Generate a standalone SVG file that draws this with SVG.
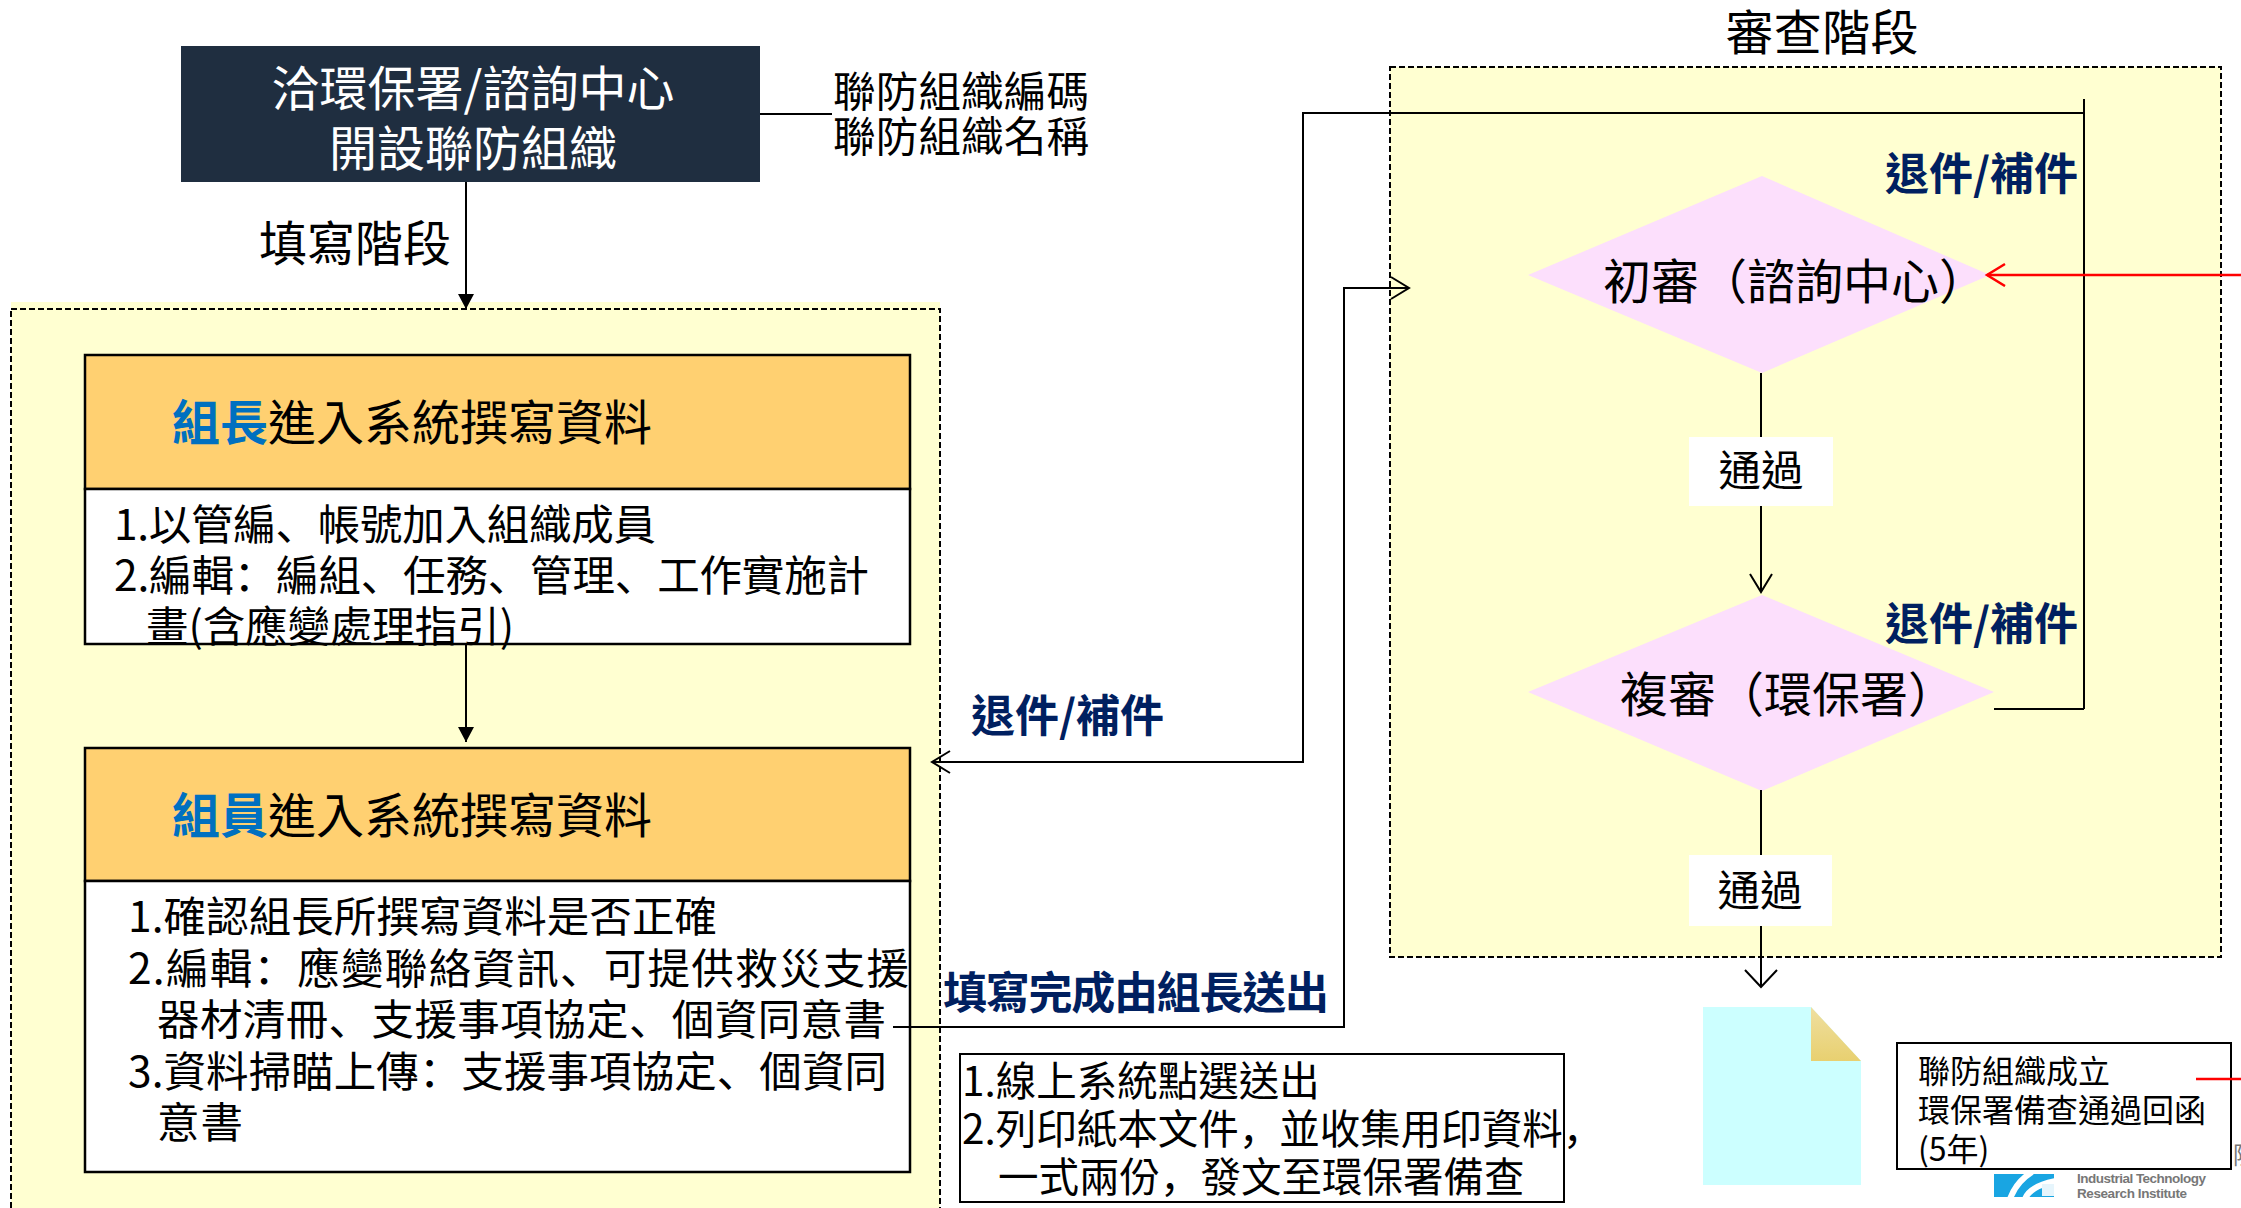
<svg xmlns="http://www.w3.org/2000/svg" width="2241" height="1208" viewBox="0 0 2241 1208">
<style>
text{font-family:"Noto Sans CJK TC","Liberation Sans",sans-serif;fill:#000;dominant-baseline:central}
.p{font-family:"Noto Sans CJK SC","Noto Sans CJK TC",sans-serif}
.t48{font-size:48px}.t42{font-size:42.5px}.t40{font-size:40.5px}.t32{font-size:32px}
.nb{font-size:44px;font-weight:700;fill:#002060}
.c{text-anchor:middle}
.zone{fill:#FFFFD1;stroke:#000;stroke-width:2;stroke-dasharray:6 3}
.head{fill:#FFD071;stroke:#000;stroke-width:2.5}
.body{fill:#fff;stroke:#000;stroke-width:2.5}
.dia{fill:#FCDFFC}
.ln{fill:none;stroke:#000;stroke-width:2}
.red{fill:none;stroke:#F00;stroke-width:2.5}
.blue{fill:#0070C0;font-weight:700}
.logo{fill:#777;font-family:"Liberation Sans",sans-serif;font-size:13.5px;font-weight:700}
</style>
<defs>
<marker id="fa" markerUnits="userSpaceOnUse" markerWidth="16" markerHeight="20" refX="15" refY="8" orient="auto"><path d="M0 0L15 8L0 16Z" fill="#000"/></marker>
<marker id="oa" markerUnits="userSpaceOnUse" markerWidth="24" markerHeight="26" refX="20" refY="12" orient="auto"><path d="M2 1L20 12L2 23" fill="none" stroke="#000" stroke-width="2"/></marker>
<marker id="ob" markerUnits="userSpaceOnUse" markerWidth="24" markerHeight="34" refX="19" refY="17" orient="auto"><path d="M2 1L19 17L2 33" fill="none" stroke="#000" stroke-width="2"/></marker>
<marker id="ra" markerUnits="userSpaceOnUse" markerWidth="24" markerHeight="26" refX="20" refY="12" orient="auto"><path d="M2 1L20 12L2 23" fill="none" stroke="#F00" stroke-width="2.5"/></marker>
<linearGradient id="fold" x1="0" y1="0" x2="0" y2="1"><stop offset="0" stop-color="#EFDFA0"/><stop offset="1" stop-color="#E8D070"/></linearGradient>
</defs>
<rect width="2241" height="1208" fill="#fff"/>
<g id="zones"><rect x="11" y="302" width="929" height="20" fill="#FFFFD1"/><rect id="zone-left" class="zone" x="11" y="309" width="929" height="920"/><rect id="zone-right" class="zone" x="1390" y="67" width="831" height="890"/></g>
<g id="start"><rect x="181" y="46" width="579" height="136" fill="#1F2E40"/><text class="t48 c" x="473" y="85" style="fill:#fff">洽環保署/諮詢中心</text><text class="t48 c" x="473" y="145" style="fill:#fff">開設聯防組織</text></g>
<g id="start-note"><text class="t42" x="833" y="88" textLength="256">聯防組織編碼</text><text class="t42" x="833" y="133" textLength="256">聯防組織名稱</text></g>
<text class="t48" x="259" y="240">填寫階段</text>
<text class="t48 c" x="1822" y="29" textLength="193">審查階段</text>
<g id="leader"><rect class="head" x="85" y="355" width="825" height="134"/><rect class="body" x="85" y="489" width="825" height="155"/>
<text class="t48" x="172" y="419"><tspan class="blue">組長</tspan>進入系統撰寫資料</text>
<text class="t42" x="114" y="521" textLength="542">1.以管編<tspan class="p">、</tspan>帳號加入組織成員</text><text class="t42" x="114" y="572" textLength="755">2.編輯<tspan class="p">：</tspan>編組<tspan class="p">、</tspan>任務<tspan class="p">、</tspan>管理<tspan class="p">、</tspan>工作實施計</text><text class="t42" x="146" y="623" textLength="368">畫(含應變處理指引)</text></g>
<g id="member"><rect class="head" x="85" y="748" width="825" height="133"/><rect class="body" x="85" y="881" width="825" height="291"/>
<text class="t48" x="172" y="812"><tspan class="blue">組員</tspan>進入系統撰寫資料</text>
<text class="t42" x="128" y="913" textLength="589">1.確認組長所撰寫資料是否正確</text><text class="t42" x="128" y="965" textLength="781">2.編輯<tspan class="p">：</tspan>應變聯絡資訊<tspan class="p">、</tspan>可提供救災支援</text><text class="t42" x="157" y="1016" textLength="729">器材清冊<tspan class="p">、</tspan>支援事項協定<tspan class="p">、</tspan>個資同意書</text><text class="t42" x="128" y="1068" textLength="759">3.資料掃瞄上傳<tspan class="p">：</tspan>支援事項協定<tspan class="p">、</tspan>個資同</text><text class="t42" x="157" y="1119" textLength="86">意書</text></g>
<g id="review1"><path class="dia" d="M1762 176L1990 275L1762 373L1528 275Z"/><text class="t48 c" x="1795" y="278">初審（諮詢中心）</text></g>
<g id="review2"><path class="dia" d="M1762 595L1994 692L1762 791L1528 692Z"/><text class="t48 c" x="1788" y="691">複審（環保署）</text></g>
<g id="connectors">
<path class="ln" d="M760 114H832"/>
<path class="ln" d="M466 182V309" marker-end="url(#fa)"/>
<path class="ln" d="M466 644V742" marker-end="url(#fa)"/>
<path class="ln" d="M1761 373V592" marker-end="url(#oa)"/>
<path class="ln" d="M1761 790V987" marker-end="url(#ob)"/>
<path class="ln" d="M1994 709H2084M2084 99V709M2084 113H1303V762H932" marker-end="url(#oa)"/>
<path class="ln" d="M893 1027H1344V288H1409" stroke-width="3" marker-end="url(#oa)"/>
<path class="red" d="M2241 275H1987" marker-end="url(#ra)"/>
</g>
<g id="pass1"><rect x="1689" y="437" width="144" height="69" fill="#fff"/><text class="t42 c" x="1761" y="467">通過</text></g>
<g id="pass2"><rect x="1689" y="855" width="143" height="71" fill="#fff"/><text class="t42 c" x="1760" y="887">通過</text></g>
<text class="nb" x="971" y="713">退件/補件</text>
<text class="nb" x="1885" y="171">退件/補件</text>
<text class="nb" x="1885" y="621">退件/補件</text>
<text class="nb" x="943" y="990" textLength="386">填寫完成由組長送出</text>
<g id="send-note"><rect x="960" y="1054" width="604" height="148" fill="#fff" stroke="#000" stroke-width="2"/><text class="t40" x="962" y="1078">1.線上系統點選送出</text><text class="t40" x="962" y="1126">2.列印紙本文件<tspan class="p">，</tspan>並收集用印資料<tspan class="p">，</tspan></text><text class="t40" x="998" y="1174">一式兩份<tspan class="p">，</tspan>發文至環保署備查</text></g>
<g id="doc"><path d="M1703 1007H1811L1861 1061V1185H1703Z" fill="#CCFFFF"/><path d="M1811 1007L1861 1061H1811Z" fill="url(#fold)"/></g>
<g id="logo"><clipPath id="lc"><rect x="1994" y="1174" width="60" height="23"/></clipPath><g clip-path="url(#lc)"><rect x="1994" y="1174" width="60" height="23" fill="#19A5E2"/><path d="M2010 1199Q2016 1182 2032 1172" fill="none" stroke="#fff" stroke-width="6"/><path d="M2025 1199Q2030 1186 2056 1181" fill="none" stroke="#fff" stroke-width="6"/><rect x="2042" y="1184" width="12" height="12" fill="#E6F5FC"/></g>
<text class="logo" x="2077" y="1178" textLength="129">Industrial Technology</text><text class="logo" x="2077" y="1193" textLength="110">Research Institute</text><text x="2233" y="1153" style="font-size:24px;fill:#777">院</text></g>
<g id="doc-note"><rect x="1897" y="1043" width="334" height="126" fill="#fff" stroke="#000" stroke-width="2"/><text class="t32" x="1918" y="1069">聯防組織成立</text><text class="t32" x="1918" y="1108">環保署備查通過回函</text><text class="t32" x="1918" y="1147">(5年)</text><path class="red" d="M2196 1079H2241"/></g>
</svg>
